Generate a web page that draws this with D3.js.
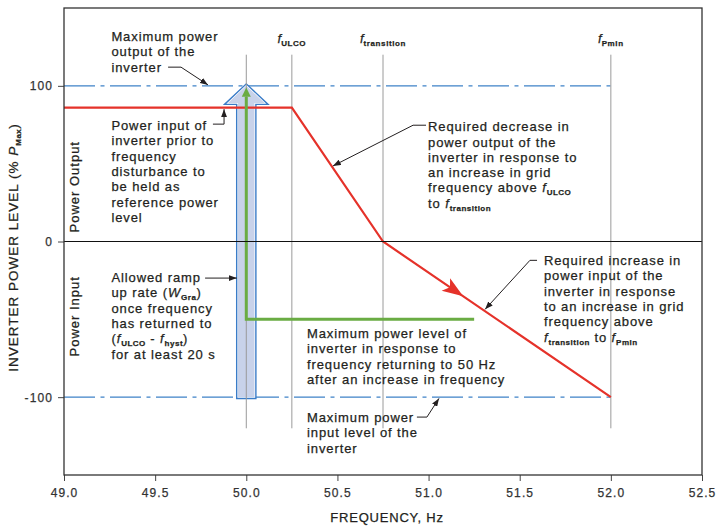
<!DOCTYPE html>
<html>
<head>
<meta charset="utf-8">
<script src="https://cdn.jsdelivr.net/npm/d3@7"></script>
<style>
    body { margin: 0; background: #fff; }
    text { font-family: "Liberation Sans", Arial, sans-serif; fill: #231f20; stroke: #231f20; stroke-width: 0.25px; }
</style>
</head>
<body>
<div id="chart"></div>
<script>
// axis ticks
const xTicks = [49.0, 49.5, 50.0, 50.5, 51.0, 51.5, 52.0, 52.5];
const yTicks = [100, 0, -100];

// required response of the inverter (red)
const responseFreq = [49.0, 50.25, 50.75, 52.0];
const responseLevel = [86, 86, 0, -100];
const responseArrowAt = [51.19, -35.2];

// max level after frequency returns (green)
const returnFreq = [50.0, 50.0, 51.25];
const returnLevel = [93, -50, -50];
const returnTip = 99;

// characteristic frequencies
const markerFreq = [50.0, 50.25, 50.75, 52.0];
const markerSub = ["", "ULCO", "transition", "Pmin"];
const markerSpan = [120, -120];

// max output / input limits
const limitLevel = [100, -100];
const limitFreq = [49.0, 52.0];

// allowed ramp arrow: centre, shaft half width, head half width, bottom, neck, tip
const rampFreq = 50.0;
const rampShaft = 0.045;
const rampHead = 0.1;
const rampLevels = [-100, 89, 100];

// annotation text, anchored in data units
const notes = [
    { f: 49.26, v: 128.7, lines: ["Maximum power", "output of the", "inverter"] },
    { f: 49.26, v: 71.5, lines: ["Power input of", "inverter prior to", "frequency", "disturbance to", "be held as", "reference power", "level"] },
    { f: 49.26, v: -26.1, lines: ["Allowed ramp",
        [["up rate ("], ["W", "i"], ["Gra", "s"], [")"]],
        "once frequency", "has returned to",
        [["("], ["f", "i"], ["ULCO", "s"], [" - "], ["f", "i"], ["hyst", "s"], [")"]],
        "for at least 20 s"] },
    { f: 50.333, v: -62.1, lines: ["Maximum power level of", "inverter in response to", "frequency returning to 50 Hz", "after an increase in frequency"] },
    { f: 50.333, v: -116, lines: ["Maximum power", "input level of the", "inverter"] },
    { f: 50.997, v: 70.8, lines: ["Required decrease in", "power output of the", "inverter in response to", "an increase in grid",
        [["frequency above "], ["f", "i"], ["ULCO", "s"]],
        [["to "], ["f", "i"], ["transition", "s"]]] },
    { f: 51.633, v: -15.2, lines: ["Required increase in", "power input of the", "inverter in response", "to an increase in grid", "frequency above",
        [["f", "i"], ["transition", "s"], [" to "], ["f", "i"], ["Pmin", "s"]]] }
];

// leader lines [freq, level], arrow at the last point
const leaders = [
    [[49.571, 112], [49.642, 112], [49.79, 100.6]],
    [[49.817, 75.4], [49.878, 75.4], [49.878, 85]],
    [[49.774, -23.5], [49.948, -23.5]],
    [[50.936, -112.8], [50.991, -112.8], [51.057, -100.8]],
    [[50.986, 74.7], [50.915, 74.7], [50.475, 48.5]],
    [[51.595, -12.1], [51.556, -12.1], [51.31, -43.6]]
];

const width = 720, height = 530;
const margin = { left: 64, right: 18, top: 8, bottom: 55 };

const svg = d3.select("#chart").append("svg")
    .attr("width", width)
    .attr("height", height);

const defs = svg.append("defs");
defs.append("marker")
    .attr("id", "leadArrow")
    .attr("markerUnits", "userSpaceOnUse")
    .attr("viewBox", "0 0 8 6")
    .attr("refX", 8).attr("refY", 3)
    .attr("markerWidth", 8).attr("markerHeight", 6)
    .attr("orient", "auto")
    .append("path")
    .attr("d", "M0,0 L8,3 L0,6 Z")
    .attr("fill", "#231f20");

const x = d3.scaleLinear().domain([49.0, 52.5]).range([margin.left, width - margin.right]);
const y = d3.scaleLinear().domain([150, -150]).range([margin.top, height - margin.bottom]);

// axes
const xAxis = svg.append("g")
    .attr("transform", "translate(0," + y(-150) + ")")
    .call(d3.axisBottom(x).tickValues(xTicks).tickFormat(d3.format(".1f")).tickSize(6).tickPadding(7));
const yAxis = svg.append("g")
    .attr("transform", "translate(" + x(49) + ",0)")
    .call(d3.axisLeft(y).tickValues(yTicks).tickFormat(d => String(d)).tickSize(6).tickPadding(5));
[xAxis, yAxis].forEach(a => {
    a.select(".domain").remove();
    a.selectAll(".tick line").attr("stroke", "#444");
    a.selectAll(".tick text")
        .style("font-family", "'Liberation Sans', Arial, sans-serif")
        .style("font-size", "12px")
        .style("letter-spacing", "1.1px")
        .style("fill", "#333")
        .style("stroke", "#333");
});

// limit lines
svg.append("g").selectAll("line")
    .data(limitLevel)
    .enter()
    .append("line")
    .attr("x1", x(limitFreq[0])).attr("x2", x(limitFreq[1]))
    .attr("y1", d => y(d)).attr("y2", d => y(d))
    .attr("stroke", "#3f82c8")
    .attr("stroke-width", 1.3)
    .attr("stroke-dasharray", "31 5.5 4 5.5");

// ramp arrow: blue outline, white gap, light fill
const rampPts = [
    [rampFreq - rampShaft, rampLevels[0]],
    [rampFreq - rampShaft, rampLevels[1]],
    [rampFreq - rampHead, rampLevels[1]],
    [rampFreq, rampLevels[2]],
    [rampFreq + rampHead, rampLevels[1]],
    [rampFreq + rampShaft, rampLevels[1]],
    [rampFreq + rampShaft, rampLevels[0]]
];
const rampPath = "M" + rampPts.map(p => x(p[0]) + "," + y(p[1])).join("L") + "Z";
svg.append("path").attr("d", rampPath)
    .attr("fill", "none")
    .attr("stroke", "#3a7cc8")
    .attr("stroke-width", 4.2);
svg.append("path").attr("d", rampPath)
    .attr("fill", "none")
    .attr("stroke", "#fff")
    .attr("stroke-width", 1.4);
svg.append("path").attr("d", rampPath)
    .attr("fill", "#c8d2ea")
    .attr("stroke", "none");

// vertical marker lines
svg.append("g").selectAll("line")
    .data(markerFreq)
    .enter()
    .append("line")
    .attr("x1", d => x(d)).attr("x2", d => x(d))
    .attr("y1", y(markerSpan[0])).attr("y2", y(markerSpan[1]))
    .attr("stroke", "#9a9a9a")
    .attr("stroke-width", 1);

// marker labels, centred over their lines
markerFreq.forEach((f, i) => {
    if (!markerSub[i]) return;
    const t = svg.append("text")
        .attr("x", x(f))
        .attr("y", 43)
        .attr("text-anchor", "middle")
        .style("font-size", "13px");
    t.append("tspan").text("f").style("font-style", "italic");
    t.append("tspan").text(markerSub[i])
        .attr("dy", 3)
        .style("font-size", "8px")
        .style("font-weight", "bold")
        .style("letter-spacing", "0.6px");
});

// red response line
const line = d3.line().x(d => x(d[0])).y(d => y(d[1]));
svg.append("path")
    .attr("d", line(responseFreq.map((f, i) => [f, responseLevel[i]])))
    .attr("fill", "none")
    .attr("stroke", "#e5322a")
    .attr("stroke-width", 2.2);

// red arrowhead along the falling segment
const ang = Math.atan2(y(responseLevel[3]) - y(responseLevel[2]), x(responseFreq[3]) - x(responseFreq[2]));
const tipX = x(responseArrowAt[0]), tipY = y(responseArrowAt[1]);
const aLen = 21, aHalf = 7.5;
const bx = tipX - aLen * Math.cos(ang), by = tipY - aLen * Math.sin(ang);
svg.append("path")
    .attr("d", "M" + tipX + "," + tipY +
        "L" + (bx + aHalf * Math.sin(ang)) + "," + (by - aHalf * Math.cos(ang)) +
        "L" + (bx + 5 * Math.cos(ang)) + "," + (by + 5 * Math.sin(ang)) +
        "L" + (bx - aHalf * Math.sin(ang)) + "," + (by + aHalf * Math.cos(ang)) + "Z")
    .attr("fill", "#e5322a");

// green return line
svg.append("path")
    .attr("d", line(returnFreq.map((f, i) => [f, returnLevel[i]])))
    .attr("fill", "none")
    .attr("stroke", "#6aac43")
    .attr("stroke-width", 3);
svg.append("path")
    .attr("d", "M" + x(returnFreq[0]) + "," + y(returnTip) +
        "L" + (x(returnFreq[0]) - 4.5) + "," + y(returnLevel[0]) +
        "L" + (x(returnFreq[0]) + 4.5) + "," + y(returnLevel[0]) + "Z")
    .attr("fill", "#6aac43");

// zero line and frame
svg.append("line")
    .attr("x1", x(49)).attr("x2", x(52.5))
    .attr("y1", y(0)).attr("y2", y(0))
    .attr("stroke", "#111").attr("stroke-width", 1.1);
svg.append("rect")
    .attr("x", x(49)).attr("y", y(150))
    .attr("width", x(52.5) - x(49)).attr("height", y(-150) - y(150))
    .attr("fill", "none")
    .attr("stroke", "#333")
    .attr("stroke-width", 1.3);

// rich text helper
function richLine(sel, parts) {
    if (typeof parts === "string") { sel.text(parts); return; }
    let shifted = false;
    parts.forEach(p => {
        const ts = sel.append("tspan").text(p[0]);
        if (p[1] === "i") ts.style("font-style", "italic");
        if (p[1] === "s") {
            ts.style("font-size", "8px").style("font-weight", "bold").style("letter-spacing", "0.5px");
            ts.attr("dy", shifted ? 0 : 3);
            shifted = true;
        } else if (shifted) {
            ts.attr("dy", -3);
            shifted = false;
        }
    });
}

// annotations
const lh = 15.3;
notes.forEach(n => {
    n.lines.forEach((ln, i) => {
        const t = svg.append("text")
            .attr("x", x(n.f))
            .attr("y", y(n.v) + i * lh)
            .style("font-size", "13px")
            .style("letter-spacing", "0.9px");
        richLine(t, ln);
    });
});

// leaders
svg.append("g").selectAll("path")
    .data(leaders)
    .enter()
    .append("path")
    .attr("d", d => line(d))
    .attr("fill", "none")
    .attr("stroke", "#231f20")
    .attr("stroke-width", 1)
    .attr("marker-end", "url(#leadArrow)");

// axis titles
const yTitle = svg.append("text")
    .attr("transform", "translate(18," + (y(0) + 6) + ") rotate(-90)")
    .attr("text-anchor", "middle")
    .style("font-size", "13.5px")
    .style("letter-spacing", "1px");
richLine(yTitle, [["INVERTER POWER LEVEL (% "], ["P", "i"], ["Max", "s"], [")"]]);

svg.append("text")
    .attr("transform", "translate(" + (x(49) + 15) + "," + (y(0) - 9) + ") rotate(-90)")
    .style("font-size", "13px")
    .style("letter-spacing", "1px")
    .text("Power Output");
svg.append("text")
    .attr("transform", "translate(" + (x(49) + 15) + "," + (y(0) + 115) + ") rotate(-90)")
    .style("font-size", "13px")
    .style("letter-spacing", "1px")
    .text("Power Input");

svg.append("text")
    .attr("x", (x(49) + x(52.5)) / 2 + 4)
    .attr("y", 522)
    .attr("text-anchor", "middle")
    .style("font-size", "13px")
    .style("letter-spacing", "0.8px")
    .text("FREQUENCY, Hz");
</script>
</body>
</html>
